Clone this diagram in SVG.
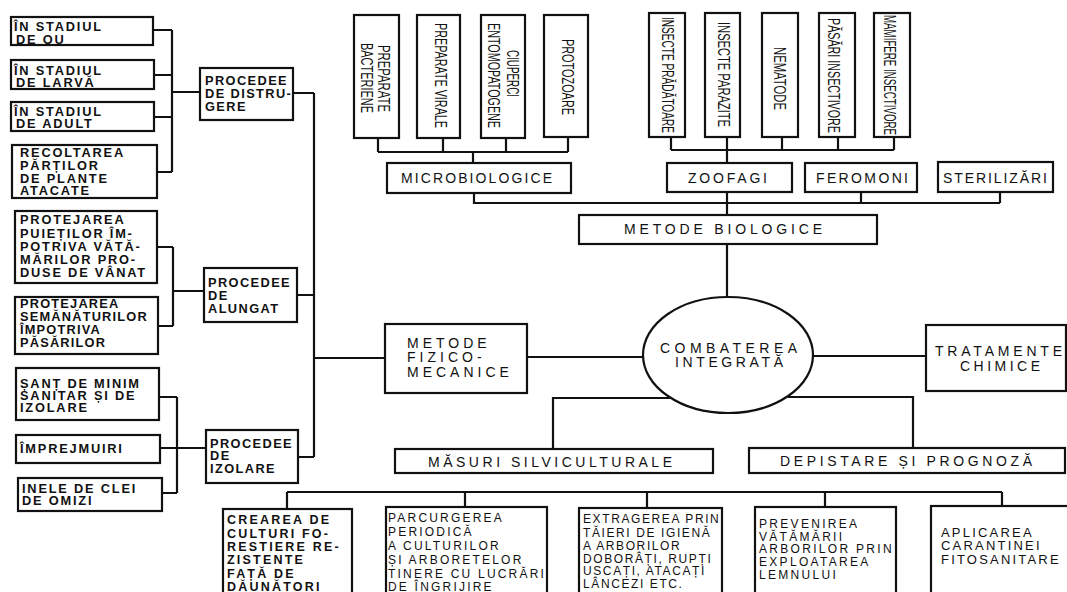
<svg xmlns="http://www.w3.org/2000/svg" width="1067" height="592" viewBox="0 0 1067 592">
  <style>
    .box { fill: #fff; stroke: #111; stroke-width: 2.2; }
    .ln { fill: none; stroke: #111; stroke-width: 2.2; }
    text { font-family: "Liberation Sans", Arial, sans-serif; fill: #111; }
    .lc { font-size: 12.8px; font-weight: bold; letter-spacing: 1.8px; }
    .pr { font-size: 12.8px; font-weight: bold; letter-spacing: 1.4px; }
    .lb { font-size: 14px; }
    .mid { text-anchor: middle; }
    .v { font-size: 16px; text-anchor: middle; }
    .bt { font-size: 12px; letter-spacing: 2px; }
  </style>

  <rect width="1067" height="592" fill="#fff"/>

  <!-- connectors -->
  <g id="connectors" class="ln">
    <!-- distrugere branch -->
    <path d="M153 30 H172 M154 75 H172 M154 117 H172 M157 172 H172 M172 30 V172 M172 92 H200"/>
    <!-- alungat branch -->
    <path d="M157 247 H173 M158 326 H173 M173 247 V326 M173 291 H204"/>
    <!-- izolare branch -->
    <path d="M159 397 H177 M160 448 H177 M162 493 H177 M177 397 V493 M177 448 H206"/>
    <!-- procedee to fizico-mecanice -->
    <path d="M293 93 H314 M297 295 H314 M298 457 H314 M314 93 V457 M314 358 H385"/>
    <!-- centre -->
    <path d="M527 357 H643 M813 356 H926 M727 244 V297"/>
    <path d="M670 398 H553 V449"/>
    <path d="M788 397 H913 V448"/>
    <!-- silvicultural measures bar -->
    <path d="M287 492 H1002 M287 492 V509 M465 492 V507 M647 492 V508 M825 492 V507 M1002 492 V506"/>
    <!-- microbiological -->
    <path d="M378 138 V152 M443 138 V152 M506 138 V152 M568 138 V152 M378 152 H568 M473 152 V163"/>
    <!-- zoophagous -->
    <path d="M671 137 V150 M727 137 V150 M782 137 V150 M838 137 V150 M894 137 V150 M671 150 H894 M727 150 V163"/>
    <!-- biological methods bus -->
    <path d="M474 193 V203 H1000 M861 192 V203 M1000 192 V203 M727 192 V215"/>
  </g>

  <!-- left column: destruction -->
  <g id="n-ou"><rect class="box" x="11" y="17" width="142" height="28"/>
    <text class="lc" x="14" y="31">ÎN STADIUL</text><text class="lc" x="16" y="44">DE OU</text></g>
  <g id="n-larva"><rect class="box" x="11" y="60" width="143" height="29"/>
    <text class="lc" x="14" y="75">ÎN STADIUL</text><text class="lc" x="16" y="87">DE LARVĂ</text></g>
  <g id="n-adult"><rect class="box" x="11" y="102" width="143" height="29"/>
    <text class="lc" x="14" y="116">ÎN STADIUL</text><text class="lc" x="16" y="128">DE ADULT</text></g>
  <g id="n-recoltare"><rect class="box" x="12" y="145" width="145" height="53"/>
    <text class="lc" x="20" y="157">RECOLTAREA</text><text class="lc" x="20" y="170">PĂRȚILOR</text>
    <text class="lc" x="20" y="183">DE PLANTE</text><text class="lc" x="20" y="195">ATACATE</text></g>
  <g id="n-distrugere"><rect class="box" x="200" y="68" width="93" height="52"/>
    <text class="pr" x="205" y="85">PROCEDEE</text><text class="pr" x="205" y="98">DE DISTRU-</text><text class="pr" x="205" y="111">GERE</text></g>

  <!-- left column: repelling -->
  <g id="n-puieti"><rect class="box" x="15" y="211" width="142" height="72"/>
    <text class="lc" x="20" y="224">PROTEJAREA</text><text class="lc" x="20" y="237.5">PUIEȚILOR ÎM-</text>
    <text class="lc" x="20" y="251">POTRIVA VĂTĂ-</text><text class="lc" x="20" y="264">MĂRILOR PRO-</text>
    <text class="lc" x="20" y="277">DUSE DE VÂNAT</text></g>
  <g id="n-semanaturi"><rect class="box" x="15" y="297" width="143" height="57"/>
    <text class="lc" x="20" y="308" style="letter-spacing:1.2px">PROTEJAREA</text><text class="lc" x="20" y="321" style="letter-spacing:1.2px">SEMĂNĂTURILOR</text>
    <text class="lc" x="20" y="334" style="letter-spacing:1.2px">ÎMPOTRIVA</text><text class="lc" x="20" y="347" style="letter-spacing:1.2px">PĂSĂRILOR</text></g>
  <g id="n-alungat"><rect class="box" x="204" y="268" width="93" height="54"/>
    <text class="pr" x="208" y="287">PROCEDEE</text><text class="pr" x="208" y="300">DE</text><text class="pr" x="208" y="313">ALUNGAT</text></g>

  <!-- left column: isolation -->
  <g id="n-sant"><rect class="box" x="16" y="368" width="143" height="52"/>
    <text class="lc" x="20" y="388">ȘANȚ DE MINIM</text><text class="lc" x="20" y="400">SANITAR ȘI DE</text>
    <text class="lc" x="20" y="412">IZOLARE</text></g>
  <g id="n-imprejmuiri"><rect class="box" x="16" y="435" width="144" height="28"/>
    <text class="lc" x="20" y="453">ÎMPREJMUIRI</text></g>
  <g id="n-inele"><rect class="box" x="18" y="478" width="144" height="33"/>
    <text class="lc" x="22" y="493">INELE DE CLEI</text><text class="lc" x="22" y="505">DE OMIZI</text></g>
  <g id="n-izolare"><rect class="box" x="206" y="430" width="92" height="53"/>
    <text class="pr" x="210" y="448">PROCEDEE</text><text class="pr" x="210" y="460">DE</text><text class="pr" x="210" y="473">IZOLARE</text></g>

  <!-- centre -->
  <g id="n-fizico"><rect class="box" x="385" y="324" width="142" height="69"/>
    <text class="lb" x="407" y="348" style="letter-spacing:4px">METODE</text>
    <text class="lb" x="407" y="362" style="letter-spacing:4px">FIZICO-</text>
    <text class="lb" x="407" y="377" style="letter-spacing:4px">MECANICE</text></g>
  <g id="n-combatere"><ellipse class="box" cx="728" cy="355" rx="85" ry="58"/>
    <text class="lb mid" x="728.5" y="353" textLength="137">COMBATEREA</text>
    <text class="lb mid" x="729" y="367" textLength="108">INTEGRATĂ</text></g>
  <g id="n-chimice"><rect class="box" x="926" y="325" width="140" height="66"/>
    <text class="lb mid" x="998.5" y="356" textLength="127">TRATAMENTE</text>
    <text class="lb mid" x="1000" y="371" textLength="80">CHIMICE</text></g>
  <g id="n-silvic"><rect class="box" x="395" y="449" width="318" height="24"/>
    <text class="lb mid" x="550" y="467" textLength="244">MĂSURI SILVICULTURALE</text></g>
  <g id="n-depistare"><rect class="box" x="749" y="448" width="316" height="25"/>
    <text class="lb mid" x="906" y="466" textLength="252">DEPISTARE ȘI PROGNOZĂ</text></g>

  <!-- biological methods -->
  <g id="n-biologice"><rect class="box" x="579" y="215" width="298" height="29"/>
    <text class="lb mid" x="723" y="234" textLength="198">METODE BIOLOGICE</text></g>
  <g id="n-microbiologice"><rect class="box" x="387" y="163" width="184" height="30"/>
    <text class="lb mid" x="476.5" y="183" textLength="151">MICROBIOLOGICE</text></g>
  <g id="n-zoofagi"><rect class="box" x="667" y="163" width="125" height="29"/>
    <text class="lb mid" x="727.5" y="183" textLength="79">ZOOFAGI</text></g>
  <g id="n-feromoni"><rect class="box" x="805" y="163" width="112" height="29"/>
    <text class="lb mid" x="862" y="183" textLength="92">FEROMONI</text></g>
  <g id="n-sterilizari"><rect class="box" x="938" y="162" width="115" height="30"/>
    <text class="lb mid" x="995" y="183" textLength="104">STERILIZĂRI</text></g>

  <!-- microbiological agents (vertical labels) -->
  <g id="n-bacteriene"><rect class="box" x="354" y="15" width="45" height="123"/>
    <text class="v" transform="translate(378 78.5) rotate(90)" textLength="67" lengthAdjust="spacingAndGlyphs">PREPARATE</text>
    <text class="v" transform="translate(361 78) rotate(90)" textLength="70" lengthAdjust="spacingAndGlyphs">BACTERIENE</text></g>
  <g id="n-virale"><rect class="box" x="417" y="15" width="43" height="123"/>
    <text class="v" transform="translate(435 75.5) rotate(90)" textLength="105" lengthAdjust="spacingAndGlyphs">PREPARATE VIRALE</text></g>
  <g id="n-ciuperci"><rect class="box" x="481" y="15" width="44" height="123"/>
    <text class="v" transform="translate(507 73.5) rotate(90)" textLength="47" lengthAdjust="spacingAndGlyphs">CIUPERCI</text>
    <text class="v" transform="translate(488 75.5) rotate(90)" textLength="105" lengthAdjust="spacingAndGlyphs">ENTOMOPATOGENE</text></g>
  <g id="n-protozoare"><rect class="box" x="544" y="15" width="44" height="122"/>
    <text class="v" transform="translate(562 77) rotate(90)" textLength="76" lengthAdjust="spacingAndGlyphs">PROTOZOARE</text></g>

  <!-- zoophagous agents (vertical labels) -->
  <g id="n-pradatoare"><rect class="box" x="649" y="13" width="36" height="124"/>
    <text class="v" transform="translate(662 75) rotate(90)" textLength="116" lengthAdjust="spacingAndGlyphs">INSECTE PRĂDĂTOARE</text></g>
  <g id="n-parazite"><rect class="box" x="705" y="13" width="35" height="124"/>
    <text class="v" transform="translate(718 74.5) rotate(90)" textLength="105" lengthAdjust="spacingAndGlyphs">INSECTE PARAZITE</text></g>
  <g id="n-nematode"><rect class="box" x="762" y="13" width="36" height="124"/>
    <text class="v" transform="translate(774 78.5) rotate(90)" textLength="63" lengthAdjust="spacingAndGlyphs">NEMATODE</text></g>
  <g id="n-pasari"><rect class="box" x="819" y="13" width="36" height="124"/>
    <text class="v" transform="translate(828 75.5) rotate(90)" textLength="115" lengthAdjust="spacingAndGlyphs">PĂSĂRI INSECTIVORE</text></g>
  <g id="n-mamifere"><rect class="box" x="874" y="13" width="36" height="124"/>
    <text class="v" transform="translate(884 75) rotate(90)" textLength="120" lengthAdjust="spacingAndGlyphs">MAMIFERE INSECTIVORE</text></g>

  <!-- silvicultural measures -->
  <g id="n-crearea"><rect class="box" x="223" y="509" width="129" height="95"/>
    <g class="bt" style="font-weight:bold;font-size:12.5px;letter-spacing:2.2px">
      <text x="227" y="524">CREAREA DE</text><text x="227" y="537.5">CULTURI FO-</text>
      <text x="227" y="551">RESTIERE RE-</text><text x="227" y="564">ZISTENTE</text>
      <text x="227" y="577.5">FAȚĂ DE</text><text x="227" y="590.5">DĂUNĂTORI</text></g></g>
  <g id="n-parcurgerea"><rect class="box" x="386" y="507" width="161" height="97"/>
    <g class="bt" style="letter-spacing:2.2px">
      <text x="388" y="522">PARCURGEREA</text><text x="388" y="536">PERIODICĂ</text>
      <text x="388" y="550">A CULTURILOR</text><text x="388" y="564">ȘI ARBORETELOR</text>
      <text x="388" y="577.5">TINERE CU LUCRĂRI</text><text x="388" y="590.5">DE ÎNGRIJIRE</text></g></g>
  <g id="n-extragerea"><rect class="box" x="579" y="508" width="143" height="96"/>
    <g class="bt" style="letter-spacing:1.6px">
      <text x="583" y="523">EXTRAGEREA PRIN</text><text x="583" y="536.5">TĂIERI DE IGIENĂ</text>
      <text x="583" y="550">A ARBORILOR</text><text x="583" y="562.5">DOBORÂȚI, RUPȚI</text>
      <text x="583" y="575">USCAȚI, ATACAȚI</text><text x="583" y="587.5">LÂNCEZI ETC.</text></g></g>
  <g id="n-prevenirea"><rect class="box" x="755" y="507" width="141" height="97"/>
    <g class="bt" style="letter-spacing:2.3px">
      <text x="759" y="528">PREVENIREA</text><text x="759" y="540.5">VĂTĂMĂRII</text>
      <text x="759" y="553">ARBORILOR PRIN</text><text x="759" y="566">EXPLOATAREA</text>
      <text x="759" y="578.5">LEMNULUI</text></g></g>
  <g id="n-aplicarea"><rect class="box" x="931" y="506" width="140" height="98"/>
    <g class="bt" style="font-size:13px;letter-spacing:2.2px">
      <text x="941" y="536.5">APLICAREA</text><text x="941" y="550">CARANTINEI</text>
      <text x="941" y="563.5">FITOSANITARE</text></g></g>
</svg>
